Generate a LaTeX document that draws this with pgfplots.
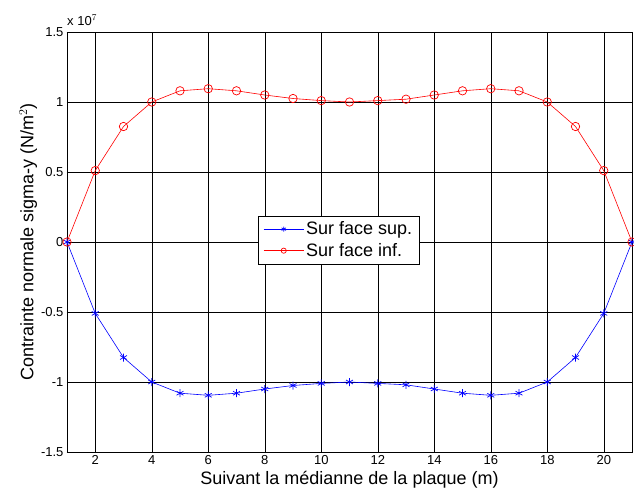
\documentclass[border=0pt]{standalone}
\usepackage{pgfplots}
\pgfplotsset{compat=1.18}
\usepackage{fontspec}
\setmainfont{Liberation Sans}
\begin{document}
\begin{tikzpicture}
\useasboundingbox (-67pt,-47pt) rectangle (567pt,452pt);
\begin{axis}[
  scale only axis, width=565pt, height=420pt,
  at={(0pt,0pt)}, anchor=south west,
  xmin=1, xmax=21, ymin=-1.5, ymax=1.5,
  xtick={2,4,...,20},
  ytick={-1.5,-1,-0.5,0,0.5,1,1.5},
  yticklabels={-1.5,-1,-0.5,0,0.5,1,1.5},
  /pgf/number format/assume math mode=true,
  ticklabel style={font=\fontsize{13}{15}\selectfont},
  xticklabel style={yshift=0pt},
  tick align=inside, major tick length=3pt,
  tick style={black, line width=0.5pt},
  grid=major, major grid style={black, line width=0.5pt},
  axis line style={black, line width=0.9pt},
  xlabel={Suivant la médianne de la plaque (m)},
  ylabel={Contrainte normale sigma-y (N/m$^2$)},
  label style={font=\fontsize{18}{20}\selectfont},
  xlabel style={yshift=0pt},
  ylabel style={yshift=-3pt},
  legend style={at={(0.481,0.505)}, anchor=center, draw=black, line width=0.6pt,
    font=\fontsize{18}{20}\selectfont, row sep=3pt, inner xsep=5pt, inner ysep=4pt},
  legend image code/.code={\draw[#1,mark repeat=2,mark phase=2,mark size=2.6pt] plot coordinates {(0pt,0pt)(20pt,0pt)(40pt,0pt)};},
  legend cell align=left,
  clip=false,
]
\addplot[blue, line width=0.6pt, mark=asterisk, mark size=4pt, mark options={line width=0.7pt}] coordinates {
(1,0) (2,-0.51) (3,-0.825) (4,-1.0) (5,-1.08) (6,-1.095) (7,-1.08) (8,-1.05) (9,-1.025) (10,-1.01) (11,-1.0)
(12,-1.01) (13,-1.02) (14,-1.05) (15,-1.08) (16,-1.095) (17,-1.08) (18,-1.0) (19,-0.825) (20,-0.51) (21,0)};
\addlegendentry{Sur face sup.}
\addplot[red, line width=0.6pt, mark=o, mark size=4.2pt, mark options={line width=0.7pt}] coordinates {
(1,0) (2,0.51) (3,0.825) (4,1.0) (5,1.08) (6,1.095) (7,1.08) (8,1.05) (9,1.025) (10,1.01) (11,1.0)
(12,1.01) (13,1.02) (14,1.05) (15,1.08) (16,1.095) (17,1.08) (18,1.0) (19,0.825) (20,0.51) (21,0)};
\addlegendentry{Sur face inf.}
\node[anchor=base west, font=\fontsize{13}{15}\selectfont, inner sep=0pt] at ([xshift=0pt,yshift=7pt]rel axis cs:0,1) {x 10$^{7}$};
\end{axis}
\end{tikzpicture}
\end{document}
